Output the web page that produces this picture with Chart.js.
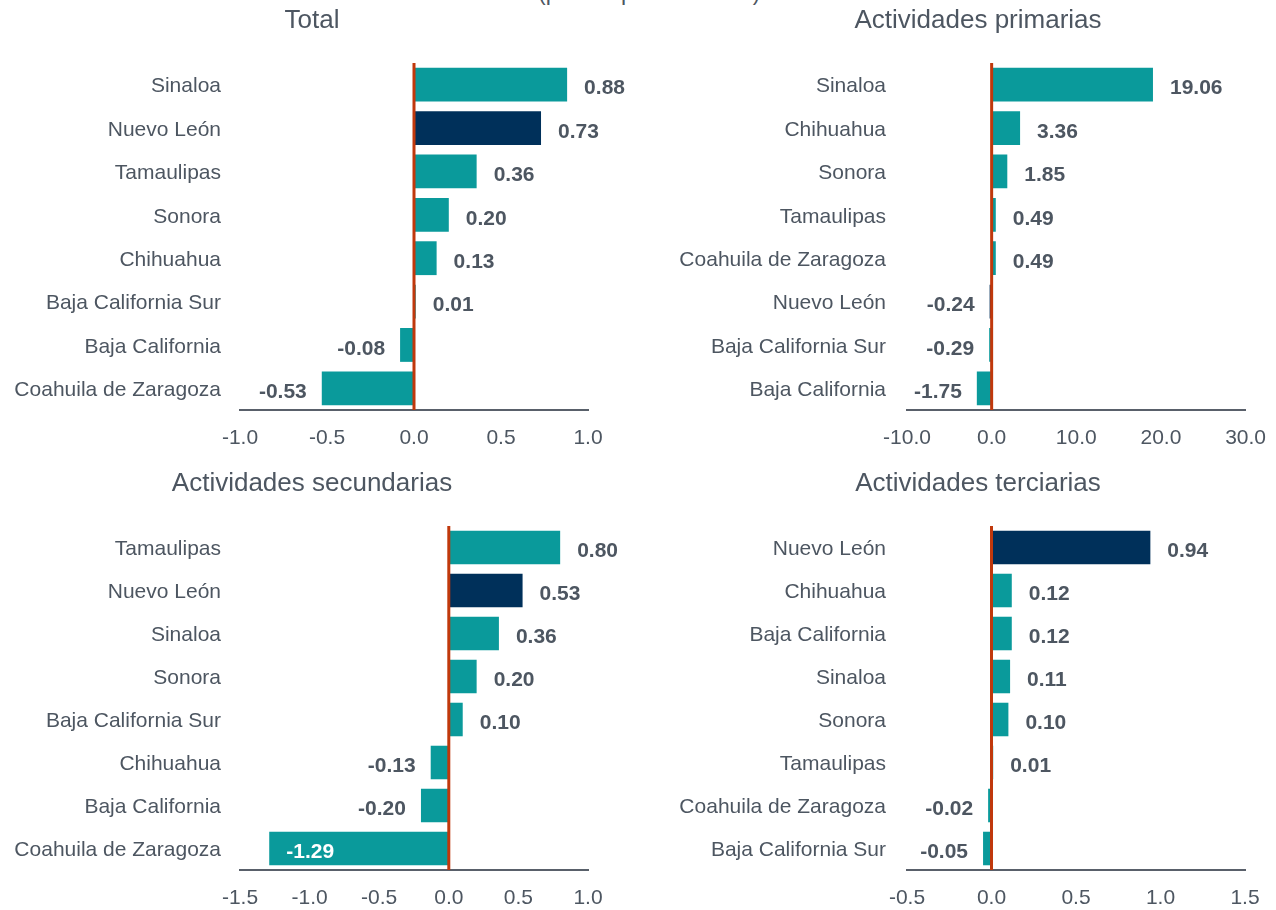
<!DOCTYPE html>
<html><head><meta charset="utf-8">
<script src="https://cdn.jsdelivr.net/npm/chart.js@4/dist/chart.umd.min.js"></script>
<style>
html,body{margin:0;padding:0;background:#fff;width:1276px;height:910px;overflow:hidden;position:relative;font-family:"Liberation Sans",Arial,sans-serif;}
canvas{position:absolute;}
#sup{position:absolute;left:538px;top:-23px;font-size:23px;line-height:30px;color:#4d5661;white-space:nowrap;}
</style></head>
<body>
<div id="sup">(puntos porcentuales)</div>
<canvas id="c1" width="638" height="455" style="left:0;top:0"></canvas>
<canvas id="c2" width="644" height="455" style="left:638px;top:0"></canvas>
<canvas id="c3" width="638" height="455" style="left:0;top:455px"></canvas>
<canvas id="c4" width="638" height="455" style="left:638px;top:455px"></canvas>
<script>
// ---- data ----
const totalCats = ['Sinaloa','Nuevo León','Tamaulipas','Sonora','Chihuahua','Baja California Sur','Baja California','Coahuila de Zaragoza'];
const totalVals = [0.88,0.73,0.36,0.20,0.13,0.01,-0.08,-0.53];
const primCats = ['Sinaloa','Chihuahua','Sonora','Tamaulipas','Coahuila de Zaragoza','Nuevo León','Baja California Sur','Baja California'];
const primVals = [19.06,3.36,1.85,0.49,0.49,-0.24,-0.29,-1.75];
const secCats = ['Tamaulipas','Nuevo León','Sinaloa','Sonora','Baja California Sur','Chihuahua','Baja California','Coahuila de Zaragoza'];
const secVals = [0.80,0.53,0.36,0.20,0.10,-0.13,-0.20,-1.29];
const terCats = ['Nuevo León','Chihuahua','Baja California','Sinaloa','Sonora','Tamaulipas','Coahuila de Zaragoza','Baja California Sur'];
const terVals = [0.94,0.12,0.12,0.11,0.10,0.01,-0.02,-0.05];
const highlight = 'Nuevo León';

const FONT = '"Liberation Sans", Arial, sans-serif';
const TEXT = '#4d5661';
const TEAL = '#0a9a9b';
const NAVY = '#00305a';
const RED = '#c0380c';
const AXIS = '#59606a';

const overlay = {
  id: 'overlay',
  afterDatasetsDraw(chart, args, o) {
    const ctx = chart.ctx, area = chart.chartArea;
    const xs = chart.scales.x;
    const x0 = xs.getPixelForValue(0);
    ctx.save();
    ctx.strokeStyle = RED; ctx.lineWidth = 3;
    ctx.beginPath(); ctx.moveTo(x0, area.top); ctx.lineTo(x0, area.bottom); ctx.stroke();
    ctx.font = 'bold 21px ' + FONT;
    ctx.textBaseline = 'middle';
    const meta = chart.getDatasetMeta(0);
    const vals = chart.data.datasets[0].data;
    meta.data.forEach((bar, i) => {
      const v = vals[i];
      const txt = v.toFixed(2);
      const w = ctx.measureText(txt).width;
      const y = bar.y + 4;
      if (v >= 0) {
        ctx.fillStyle = TEXT; ctx.textAlign = 'left';
        ctx.fillText(txt, bar.x + 17, y);
      } else {
        const right = bar.x - 15;
        if (right - w < area.left) {
          ctx.fillStyle = '#ffffff'; ctx.textAlign = 'left';
          ctx.fillText(txt, bar.x + 17, y);
        } else {
          ctx.fillStyle = TEXT; ctx.textAlign = 'right';
          ctx.fillText(txt, right, y);
        }
      }
    });
    ctx.font = '26px ' + FONT;
    ctx.fillStyle = TEXT; ctx.textAlign = 'center'; ctx.textBaseline = 'middle';
    ctx.fillText(o.title, o.tx, o.ty);
    ctx.restore();
  }
};

function makeChart(id, title, cats, vals, min, max, step, L) {
  new Chart(document.getElementById(id), {
    type: 'bar',
    data: {
      labels: cats,
      datasets: [{
        data: vals,
        backgroundColor: cats.map(c => c === highlight ? NAVY : TEAL),
        borderWidth: 0,
        barPercentage: 0.78,
        categoryPercentage: 1
      }]
    },
    options: {
      indexAxis: 'y',
      responsive: false,
      animation: false,
      devicePixelRatio: 1,
      layout: { padding: { left: 0, right: L.padRight, top: L.top, bottom: 0 } },
      plugins: {
        legend: { display: false },
        tooltip: { enabled: false },
        title: { display: false },
        overlay: { title: title, tx: L.tx, ty: L.ty }
      },
      scales: {
        x: {
          min: min, max: max,
          grid: { display: false, drawTicks: false },
          border: { display: true, color: AXIS, width: 2 },
          ticks: { stepSize: step, padding: 16, color: TEXT, font: { size: 21, family: FONT },
                   callback: v => Number(v).toFixed(1), maxRotation: 0, autoSkip: false },
          afterFit: s => { s.height = L.xh; }
        },
        y: {
          grid: { display: false, drawTicks: false },
          border: { display: false },
          ticks: { padding: L.ypad, labelOffset: 2, color: TEXT, font: { size: 21, family: FONT }, autoSkip: false },
          afterFit: s => { s.width = L.yw; }
        }
      }
    },
    plugins: [overlay]
  });
}

makeChart('c1', 'Total', totalCats, totalVals, -1, 1, 0.5,
  { padRight: 50, top: 63, xh: 45, ypad: 19, yw: 240, tx: 312, ty: 21 });
makeChart('c2', 'Actividades primarias', primCats, primVals, -10, 30, 10,
  { padRight: 25, top: 63, xh: 45, ypad: 21, yw: 269, tx: 340, ty: 21 });
makeChart('c3', 'Actividades secundarias', secCats, secVals, -1.5, 1, 0.5,
  { padRight: 50, top: 71, xh: 40, ypad: 19, yw: 240, tx: 312, ty: 29 });
makeChart('c4', 'Actividades terciarias', terCats, terVals, -0.5, 1.5, 0.5,
  { padRight: 31, top: 71, xh: 40, ypad: 21, yw: 269, tx: 340, ty: 29 });
</script>
</body></html>
